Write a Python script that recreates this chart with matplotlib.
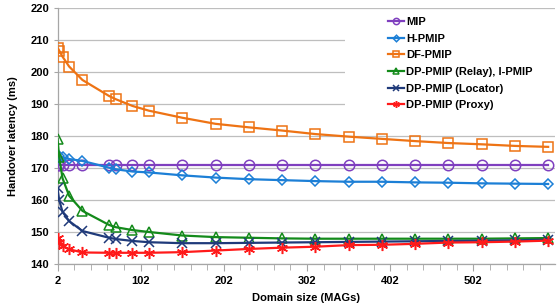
import matplotlib
matplotlib.use("Agg")
import matplotlib.pyplot as plt
from matplotlib.patches import Rectangle
from matplotlib.ticker import MultipleLocator, FixedLocator

plt.rcParams['font.family'] = ['Liberation Sans', 'DejaVu Sans']
plt.rcParams['font.weight'] = 'bold'

domain_size = [2, 4, 8, 16, 32, 64, 72, 92, 112, 152, 192, 232, 272, 312, 352,
               392, 432, 472, 512, 552, 592]

mip = [171.0] * len(domain_size)
h_pmip = [173.0, 173.6, 173.3, 172.8, 172.2, 170.1, 169.6, 168.9, 168.6, 167.7,
          167.0, 166.5, 166.2, 165.9, 165.7, 165.7, 165.5, 165.4, 165.2, 165.1, 165.0]
df_pmip = [207.6, 206.7, 204.8, 201.7, 197.5, 192.5, 191.5, 189.4, 187.9, 185.7,
           183.8, 182.7, 181.7, 180.6, 179.8, 179.1, 178.4, 177.8, 177.4, 176.9, 176.6]
dp_relay = [179.0, 173.5, 166.8, 161.3, 156.6, 152.2, 151.5, 150.6, 150.0, 148.9,
            148.4, 148.2, 148.0, 147.9, 147.9, 147.9, 147.9, 147.9, 147.9, 148.0, 148.1]
dp_locator = [163.6, 160.0, 156.3, 153.4, 150.3, 148.2, 147.8, 147.2, 146.8, 146.5,
              146.5, 146.6, 146.7, 146.8, 146.9, 147.0, 147.1, 147.2, 147.3, 147.4, 147.6]
dp_proxy = [148.0, 147.0, 145.6, 144.6, 143.6, 143.5, 143.5, 143.5, 143.5, 143.7,
            144.2, 144.7, 145.1, 145.4, 145.9, 146.0, 146.3, 146.7, 146.8, 147.0, 147.3]

series_labels = ["MIP", "H-PMIP", "DF-PMIP", "DP-PMIP (Relay), I-PMIP",
                 "DP-PMIP (Locator)", "DP-PMIP (Proxy)"]
series_values = [mip, h_pmip, df_pmip, dp_relay, dp_locator, dp_proxy]
colors = ["#7F3FBF", "#1C7FD6", "#EE7314", "#138A1A", "#1F3A7A", "#FF1A1A"]
markers = ["o", "D", "s", "^", "x", (6, 2, 0)]
msizes = [7.5, 5.5, 7.5, 7.5, 7.5, 8]

x_ticks = [2, 102, 202, 302, 402, 502]

fig = plt.figure(figsize=(5.6, 3.08), dpi=100)
ax = fig.add_axes([0.1027, 0.1429, 0.8880, 0.8312])

for lbl, vals, c, m, ms in zip(series_labels, series_values, colors, markers, msizes):
    ax.plot(domain_size, vals, color=c, lw=1.6, marker=m, ms=ms,
            markerfacecolor='none', markeredgecolor=c, markeredgewidth=1.1,
            label=lbl, zorder=3)

ax.set_xlim(2, 600)
ax.set_ylim(140, 220)
ax.xaxis.set_major_locator(FixedLocator(x_ticks))
ax.xaxis.set_minor_locator(FixedLocator(list(range(2, 600, 20))))
ax.yaxis.set_major_locator(MultipleLocator(10))
ax.grid(axis='y', color='#BEBEBE', lw=0.9, zorder=0)
ax.set_axisbelow(True)
for s in ['top', 'right']:
    ax.spines[s].set_visible(False)
for s in ['left', 'bottom']:
    ax.spines[s].set_color('#A6A6A6')
    ax.spines[s].set_linewidth(0.9)
ax.tick_params(axis='x', which='major', length=5, color='#A6A6A6', labelsize=8, pad=4)
ax.tick_params(axis='x', which='minor', length=4, color='#A6A6A6')
ax.tick_params(axis='y', which='major', length=3, color='#A6A6A6', labelsize=8, pad=3)
for t in ax.get_xticklabels() + ax.get_yticklabels():
    t.set_fontweight('bold')

ax.set_xlabel("Domain size (MAGs)", fontsize=8, fontweight='bold', labelpad=5)
ax.set_ylabel("Handover latency (ms)", fontsize=8, fontweight='bold', labelpad=9)

# legend area background (white)
ax.add_patch(Rectangle((0.578, 0.57), 0.43, 0.414, transform=ax.transAxes,
                       facecolor='white', edgecolor='none', zorder=1, clip_on=False))

handles, labels = ax.get_legend_handles_labels()
leg = ax.legend(handles, labels, loc='upper left', bbox_to_anchor=(0.655, 0.982),
                frameon=False, fontsize=8, handlelength=1.5, handletextpad=0.15,
                labelspacing=0.6, markerscale=0.6, borderaxespad=0)
for t in leg.get_texts():
    t.set_fontweight('bold')

fig.savefig("out.png", dpi=100)
